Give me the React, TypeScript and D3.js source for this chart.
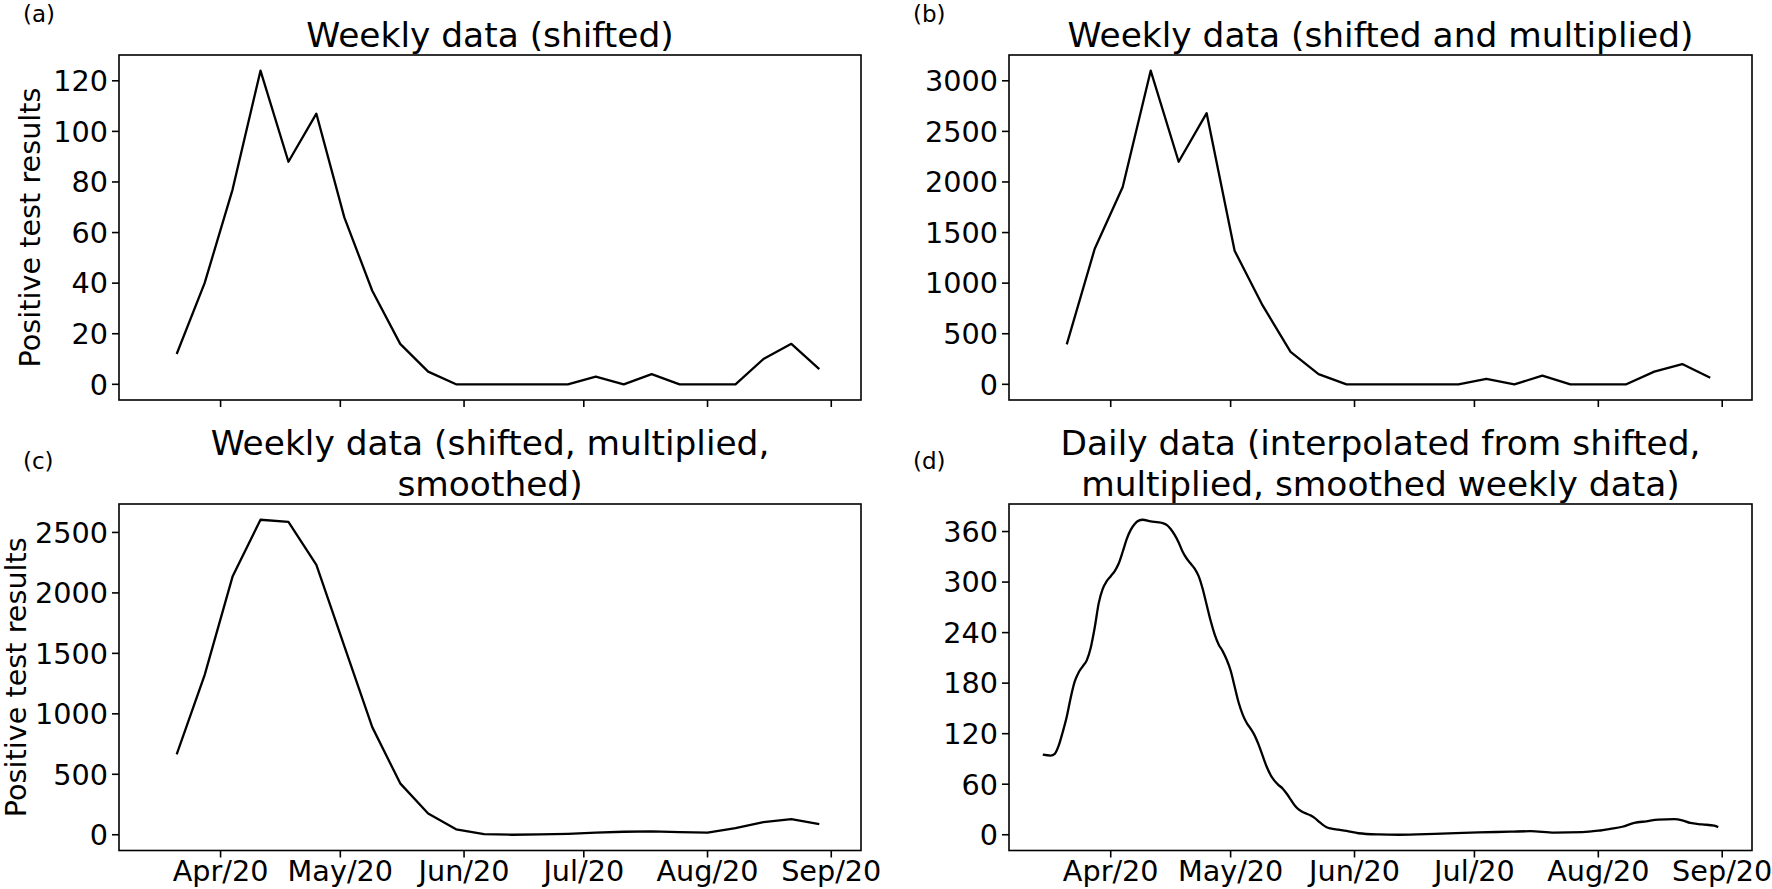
import * as d3 from "d3";

// weekly sample dates (shared by panels a, b, c)
const weeklyDates = [
  "2020-03-21", "2020-03-28", "2020-04-04", "2020-04-11", "2020-04-18", "2020-04-25",
  "2020-05-02", "2020-05-09", "2020-05-16", "2020-05-23", "2020-05-30", "2020-06-06",
  "2020-06-13", "2020-06-20", "2020-06-27", "2020-07-04", "2020-07-11", "2020-07-18",
  "2020-07-25", "2020-08-01", "2020-08-08", "2020-08-15", "2020-08-22", "2020-08-29",
];

const shifted = [12, 40, 77, 124, 88, 107, 66, 37, 16, 5, 0, 0, 0, 0, 0, 3, 0, 4, 0, 0, 0, 10, 16, 6];

const shiftedMultiplied = [
  395, 1340, 1950, 3100, 2200, 2680, 1320, 780, 320, 100, 0, 0,
  0, 0, 0, 55, 0, 85, 0, 0, 0, 125, 200, 65,
];

const shiftedSmoothed = [
  665, 1320, 2135, 2605, 2588, 2232, 1560, 890, 425, 175, 45, 5,
  0, 3, 8, 18, 25, 28, 22, 17, 55, 105, 130, 88,
];

// daily series
const dailyDates = [
  "2020-03-15", "2020-03-17", "2020-03-18", "2020-03-19", "2020-03-20", "2020-03-21",
  "2020-03-22", "2020-03-23", "2020-03-24", "2020-03-25", "2020-03-26", "2020-03-27",
  "2020-03-28", "2020-03-29", "2020-03-30", "2020-03-31", "2020-04-01", "2020-04-02",
  "2020-04-03", "2020-04-04", "2020-04-05", "2020-04-06", "2020-04-07", "2020-04-08",
  "2020-04-09", "2020-04-11", "2020-04-13", "2020-04-14", "2020-04-15", "2020-04-16",
  "2020-04-17", "2020-04-18", "2020-04-19", "2020-04-20", "2020-04-21", "2020-04-22",
  "2020-04-23", "2020-04-24", "2020-04-25", "2020-04-26", "2020-04-27", "2020-04-28",
  "2020-04-29", "2020-04-30", "2020-05-01", "2020-05-02", "2020-05-03", "2020-05-04",
  "2020-05-05", "2020-05-06", "2020-05-07", "2020-05-08", "2020-05-09", "2020-05-10",
  "2020-05-11", "2020-05-12", "2020-05-13", "2020-05-14", "2020-05-15", "2020-05-16",
  "2020-05-17", "2020-05-18", "2020-05-19", "2020-05-20", "2020-05-21", "2020-05-22",
  "2020-05-23", "2020-05-24", "2020-05-25", "2020-05-26", "2020-05-28", "2020-05-30",
  "2020-06-02", "2020-06-07", "2020-06-12", "2020-06-21", "2020-07-02", "2020-07-10",
  "2020-07-15", "2020-07-21", "2020-07-28", "2020-08-01", "2020-08-04", "2020-08-07",
  "2020-08-10", "2020-08-13", "2020-08-16", "2020-08-20", "2020-08-22", "2020-08-24",
  "2020-08-27", "2020-08-30", "2020-08-31",
];

const dailyValues = [
  95, 94, 96, 106, 122, 140,
  163, 182, 193, 200, 207, 222,
  246, 275, 292, 301, 307, 313,
  322, 336, 351, 362, 369, 373,
  374, 372, 371, 370, 368, 363,
  356, 347, 336, 328, 322, 316,
  307, 292, 273, 254, 238, 226,
  218, 208, 195, 176, 157, 143,
  133, 126, 118, 107, 94, 81,
  71, 64, 59, 55, 49, 42,
  35, 30, 27, 25, 23, 20,
  16, 12, 9, 7.5, 6, 4.5,
  1.8, 0.4, 0, 1, 2.8, 3.6,
  4.2, 2.5, 3, 4.8, 7, 9.5,
  14, 16, 18, 18.6, 17.2, 14,
  12.3, 10.7, 9.1,
];

const ticksA = [0, 20, 40, 60, 80, 100, 120];
const ticksB = [0, 500, 1000, 1500, 2000, 2500, 3000];
const ticksC = [0, 500, 1000, 1500, 2000, 2500];
const ticksD = [0, 60, 120, 180, 240, 300, 360];

const W = 1772;
const H = 889;
const FONT = "DejaVu Sans, sans-serif";
const TICK_FS = 28.7;
const TITLE_FS = 34.4;
const LETTER_FS = 23;

const parse = d3.timeParse("%Y-%m-%d");
const dailyParsed = dailyDates.map((d) => parse(d) as Date);
const weeklyParsed = weeklyDates.map((d) => parse(d) as Date);

// shared x limits: daily extent with matplotlib-like 5% margins
const [dMin, dMax] = d3.extent(dailyParsed) as [Date, Date];
const span = +dMax - +dMin;
const xDomain = [new Date(+dMin - span * 0.05), new Date(+dMax + span * 0.05)];

type PanelProps = {
  left: number;
  top: number;
  width: number;
  height: number;
  dates: Date[];
  values: number[];
  yTicks: number[];
  title: string[];
  letter: string;
  letterX: number;
  letterY: number;
  yLabelX?: number;
  showXLabels: boolean;
  smooth?: boolean;
};

function Panel({
  left,
  top,
  width,
  height,
  dates,
  values,
  yTicks,
  title,
  letter,
  letterX,
  letterY,
  yLabelX,
  showXLabels,
  smooth,
}: PanelProps) {
  const x = d3.scaleTime().domain(xDomain).range([left, left + width]);
  const [vMin, vMax] = d3.extent(values) as [number, number];
  const pad = (vMax - vMin) * 0.05;
  const y = d3
    .scaleLinear()
    .domain([vMin - pad, vMax + pad])
    .range([top + height, top]);

  const line = d3
    .line<number>()
    .x((_, i) => x(dates[i]))
    .y((v) => y(v))
    .curve(smooth ? d3.curveMonotoneX : d3.curveLinear);

  const xTicks = x.ticks(d3.timeMonth.every(1)!);
  const fmt = d3.timeFormat("%b/%y");
  const bottom = top + height;
  const cx = left + width / 2;

  return (
    <g>
      <text x={letterX} y={letterY} fontSize={LETTER_FS} fontFamily={FONT}>
        {letter}
      </text>
      {title.map((t, i) => (
        <text
          key={i}
          x={cx}
          y={top - 8 - (title.length - 1 - i) * TITLE_FS * 1.2}
          fontSize={TITLE_FS}
          fontFamily={FONT}
          textAnchor="middle"
        >
          {t}
        </text>
      ))}
      <path d={line(values) ?? ""} fill="none" stroke="#000" strokeWidth={2.3} strokeLinejoin="round" />
      <rect x={left} y={top} width={width} height={height} fill="none" stroke="#000" strokeWidth={1.6} />
      {yTicks.map((t) => (
        <g key={t}>
          <line x1={left - 7} x2={left} y1={y(t)} y2={y(t)} stroke="#000" strokeWidth={1.6} />
          <text
            x={left - 11}
            y={y(t)}
            dy="0.36em"
            textAnchor="end"
            fontSize={TICK_FS}
            fontFamily={FONT}
          >
            {t}
          </text>
        </g>
      ))}
      {xTicks.map((t) => (
        <g key={+t}>
          <line x1={x(t)} x2={x(t)} y1={bottom} y2={bottom + 7} stroke="#000" strokeWidth={1.6} />
          {showXLabels && (
            <text x={x(t)} y={bottom + 30} textAnchor="middle" fontSize={TICK_FS} fontFamily={FONT}>
              {fmt(t)}
            </text>
          )}
        </g>
      ))}
      {yLabelX !== undefined && (
        <text
          transform={`translate(${yLabelX},${top + height / 2}) rotate(-90)`}
          textAnchor="middle"
          fontSize={TICK_FS}
          fontFamily={FONT}
        >
          Positive test results
        </text>
      )}
    </g>
  );
}

export default function App() {
  const colL = { left: 119, width: 742 };
  const colR = { left: 1009, width: 743 };
  const rowT = { top: 55, height: 345 };
  const rowB = { top: 504, height: 346.5 };

  return (
    <div style={{ position: "absolute", left: 0, top: 0 }}>
      <svg width={W} height={H} style={{ display: "block", background: "#fff" }}>
        <Panel
          {...colL}
          {...rowT}
          dates={weeklyParsed}
          values={shifted}
          yTicks={ticksA}
          title={["Weekly data (shifted)"]}
          letter="(a)"
          letterX={23}
          letterY={22}
          yLabelX={40}
          showXLabels={false}
        />
        <Panel
          {...colR}
          {...rowT}
          dates={weeklyParsed}
          values={shiftedMultiplied}
          yTicks={ticksB}
          title={["Weekly data (shifted and multiplied)"]}
          letter="(b)"
          letterX={913}
          letterY={22}
          showXLabels={false}
        />
        <Panel
          {...colL}
          {...rowB}
          dates={weeklyParsed}
          values={shiftedSmoothed}
          yTicks={ticksC}
          title={["Weekly data (shifted, multiplied,", "smoothed)"]}
          letter="(c)"
          letterX={23}
          letterY={469}
          yLabelX={26}
          showXLabels={true}
        />
        <Panel
          {...colR}
          {...rowB}
          dates={dailyParsed}
          values={dailyValues}
          yTicks={ticksD}
          title={["Daily data (interpolated from shifted,", "multiplied, smoothed weekly data)"]}
          letter="(d)"
          letterX={913}
          letterY={469}
          showXLabels={true}
          smooth
        />
      </svg>
    </div>
  );
}
